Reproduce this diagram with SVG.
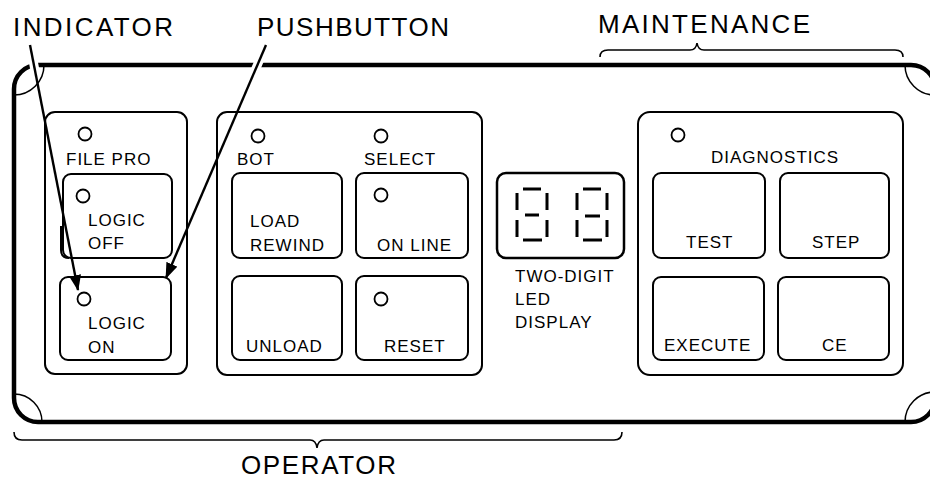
<svg xmlns="http://www.w3.org/2000/svg" width="930" height="480" viewBox="0 0 930 480">
<style>
.bg{fill:#fff}
.panel{fill:none;stroke:#000;stroke-width:4.5}
.thin{fill:none;stroke:#000;stroke-width:1.5}
.grp{fill:none;stroke:#000;stroke-width:2}
.btn{fill:none;stroke:#000;stroke-width:2}
.led{fill:#fff;stroke:#000;stroke-width:1.8}
.seg{stroke:#000;stroke-width:3;fill:none}
.brace{fill:none;stroke:#000;stroke-width:1.6}
.t{font-family:"Liberation Sans",Arial,sans-serif;font-size:17px;letter-spacing:1px;fill:#000}
.big{font-family:"Liberation Sans",Arial,sans-serif;font-size:26px;fill:#000}
.arrow{stroke:#000;stroke-width:2.4;fill:none}
.halo{stroke:#fff;stroke-width:9;fill:none}
</style>
<defs>
<marker id="ah" viewBox="0 0 16 12" refX="15" refY="6" markerWidth="16" markerHeight="12" markerUnits="userSpaceOnUse" orient="auto">
<path d="M0,0 L16,6 L0,12 Z" fill="#000"/>
</marker>
</defs>
<rect class="bg" x="0" y="0" width="930" height="480"/>

<g id="panel">
<rect class="panel" x="14" y="65" width="921" height="357" rx="24"/>
<path class="thin" d="M14,95 A30,30 0 0 0 44,65"/>
<path class="thin" d="M905,65 A30,30 0 0 0 935,95"/>
<path class="thin" d="M14,394 A28,28 0 0 1 42,422"/>
<path class="thin" d="M905,422 A30,30 0 0 1 935,392"/>
</g>

<g id="braces">
<path class="brace" d="M600,57 Q600,50 608,50 H690 Q696,50 697,43 Q698,50 704,50 H895 Q903,50 903,57"/>
<path class="brace" d="M14,432 Q14,440 22,440 H310 Q316,440 317,448 Q318,440 324,440 H614 Q622,440 622,432"/>
</g>

<g id="group-logic">
<rect class="grp" x="45" y="112" width="142" height="262" rx="10"/>
<circle class="led" cx="85" cy="134" r="6.5"/>
<text class="t" x="66" y="165">FILE PRO</text>
<g id="btn-logic-off">
<rect class="btn" x="63" y="174" width="109" height="84" rx="8"/>
<path class="btn" d="M61,226 V250 Q61,258 69,258"/>
<circle class="led" cx="83" cy="196" r="6.5"/>
<text class="t" x="88" y="226">LOGIC</text>
<text class="t" x="88" y="249">OFF</text>
</g>
<g id="btn-logic-on">
<rect class="btn" x="60" y="277" width="111" height="83" rx="8"/>
<circle class="led" cx="84" cy="299" r="6.5"/>
<text class="t" x="88" y="329">LOGIC</text>
<text class="t" x="88" y="353">ON</text>
</g>
</g>

<g id="group-tape">
<rect class="grp" x="217" y="112" width="265" height="263" rx="10"/>
<circle class="led" cx="258" cy="136" r="6.5"/>
<text class="t" x="237" y="165">BOT</text>
<circle class="led" cx="381" cy="136" r="6.5"/>
<text class="t" x="364" y="165">SELECT</text>
<g id="btn-load-rewind">
<rect class="btn" x="232" y="173" width="110" height="85" rx="8"/>
<text class="t" x="250" y="227">LOAD</text>
<text class="t" x="250" y="251">REWIND</text>
</g>
<g id="btn-on-line">
<rect class="btn" x="356" y="173" width="112" height="85" rx="8"/>
<circle class="led" cx="381" cy="195" r="6.5"/>
<text class="t" x="377" y="251">ON LINE</text>
</g>
<g id="btn-unload">
<rect class="btn" x="232" y="276" width="110" height="84" rx="8"/>
<text class="t" x="246" y="352">UNLOAD</text>
</g>
<g id="btn-reset">
<rect class="btn" x="356" y="276" width="112" height="84" rx="8"/>
<circle class="led" cx="381" cy="299" r="6.5"/>
<text class="t" x="384" y="352">RESET</text>
</g>
</g>

<g id="led-display">
<rect x="497" y="173" width="127" height="85" rx="9" fill="none" stroke="#000" stroke-width="2.5"/>
<path class="seg" d="M523,189H541 M517,193V210 M547,193V210 M525,215H539 M517,220V237 M547,220V237 M523,240H542"/>
<path class="seg" d="M583,189H601 M577,193V210 M607,193V210 M585,216H600 M577,220V237 M607,220V237 M583,240H602"/>
<text class="t" x="515" y="282">TWO-DIGIT</text>
<text class="t" x="515" y="305">LED</text>
<text class="t" x="515" y="328">DISPLAY</text>
</g>

<g id="group-maint">
<rect class="grp" x="638" y="112" width="265" height="263" rx="12"/>
<circle class="led" cx="678" cy="135" r="6.5"/>
<text class="t" x="711" y="163">DIAGNOSTICS</text>
<g id="btn-test">
<rect class="btn" x="653" y="173" width="112" height="85" rx="8"/>
<text class="t" x="686" y="248">TEST</text>
</g>
<g id="btn-step">
<rect class="btn" x="780" y="173" width="109" height="85" rx="8"/>
<text class="t" x="812" y="248">STEP</text>
</g>
<g id="btn-execute">
<rect class="btn" x="653" y="277" width="111" height="83" rx="8"/>
<text class="t" x="664" y="351">EXECUTE</text>
</g>
<g id="btn-ce">
<rect class="btn" x="778" y="277" width="111" height="83" rx="8"/>
<text class="t" x="822" y="351">CE</text>
</g>
</g>

<g id="connectors">
<line class="halo" x1="32.4" y1="57" x2="35.5" y2="73"/>
<line class="halo" x1="260.8" y1="57" x2="254" y2="73"/>
<line class="arrow" x1="30" y1="45" x2="78" y2="290" marker-end="url(#ah)"/>
<line class="arrow" x1="266" y1="45" x2="166" y2="278" marker-end="url(#ah)"/>
</g>

<g id="labels">
<text class="big" x="13" y="36" textLength="160" lengthAdjust="spacing">INDICATOR</text>
<text class="big" x="257" y="36" textLength="192" lengthAdjust="spacing">PUSHBUTTON</text>
<text class="big" x="598" y="33" textLength="212" lengthAdjust="spacing">MAINTENANCE</text>
<text class="big" x="241" y="474" textLength="155" lengthAdjust="spacing">OPERATOR</text>
</g>
</svg>
